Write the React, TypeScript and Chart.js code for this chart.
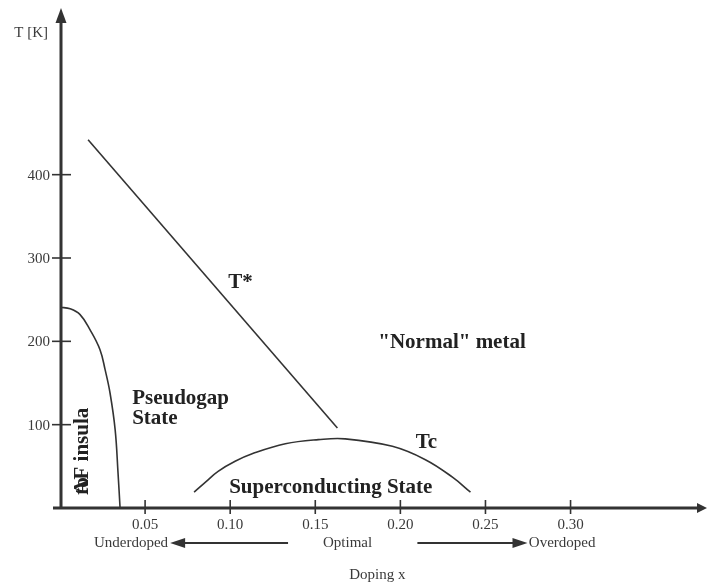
import React, { useEffect, useRef } from "react";
import { Chart, registerables } from "chart.js";

Chart.register(...registerables);

// ---- data ----
const xTickValues = [0.05, 0.1, 0.15, 0.2, 0.25, 0.3];
const xTickLabels = ["0.05", "0.10", "0.15", "0.20", "0.25", "0.30"];
const yTickValues = [100, 200, 300, 400];
const yTickLabels = ["100", "200", "300", "400"];

const tStarX = [0.0165, 0.163];
const tStarT = [442, 96];

const afX = [0, 0.006, 0.0118, 0.0176, 0.0235, 0.0265, 0.0294, 0.0324, 0.0341, 0.0353];
const afT = [241, 239, 232, 214, 190, 166, 138, 94, 42, 0];

const tcX = [0.0788, 0.086, 0.0929, 0.1029, 0.1129, 0.1324, 0.1518, 0.1676, 0.1953, 0.2147, 0.2306, 0.2412];
const tcT = [19, 32, 44, 56, 65, 77, 82, 83, 74, 58, 37, 19];

const X_MAX = 0.379;
const Y_MAX = 600;

const SERIF = '"Liberation Serif", "Times New Roman", serif';
const INK = "#333333";
const TEXT = "#3a3a3a";

const toPts = (xs: number[], ys: number[]) => xs.map((x, i) => ({ x, y: ys[i] }));

const diagramPlugin = {
  id: "diagram",
  beforeDatasetsDraw(chart: any) {
    const { ctx, chartArea, scales } = chart;
    const xs = scales.x;
    const ys = scales.y;
    const x0 = xs.getPixelForValue(0) + 1;
    const y0 = ys.getPixelForValue(0);
    ctx.save();
    ctx.strokeStyle = INK;
    ctx.fillStyle = INK;
    ctx.lineWidth = 3;
    // y axis
    ctx.beginPath();
    ctx.moveTo(x0, y0);
    ctx.lineTo(x0, chartArea.top + 12);
    ctx.stroke();
    ctx.beginPath();
    ctx.moveTo(x0, chartArea.top);
    ctx.lineTo(x0 - 5.5, chartArea.top + 15);
    ctx.lineTo(x0 + 5.5, chartArea.top + 15);
    ctx.closePath();
    ctx.fill();
    // x axis
    ctx.beginPath();
    ctx.moveTo(x0 - 8, y0);
    ctx.lineTo(chartArea.right - 6, y0);
    ctx.stroke();
    ctx.beginPath();
    ctx.moveTo(chartArea.right + 2, y0);
    ctx.lineTo(chartArea.right - 8, y0 - 5);
    ctx.lineTo(chartArea.right - 8, y0 + 5);
    ctx.closePath();
    ctx.fill();
    // ticks
    ctx.lineWidth = 1.6;
    yTickValues.forEach((v) => {
      const py = ys.getPixelForValue(v);
      ctx.beginPath();
      ctx.moveTo(x0 - 9, py);
      ctx.lineTo(x0 + 10, py);
      ctx.stroke();
    });
    xTickValues.forEach((v) => {
      const px = xs.getPixelForValue(v);
      ctx.beginPath();
      ctx.moveTo(px, y0 - 8);
      ctx.lineTo(px, y0 + 6);
      ctx.stroke();
    });
    ctx.restore();
  },
  afterDatasetsDraw(chart: any) {
    const { ctx, scales } = chart;
    const xs = scales.x;
    const ys = scales.y;
    const x0 = xs.getPixelForValue(0) + 1;
    const y0 = ys.getPixelForValue(0);
    const X = (v: number) => xs.getPixelForValue(v);
    const Y = (v: number) => ys.getPixelForValue(v);
    ctx.save();
    ctx.fillStyle = TEXT;
    // tick labels
    ctx.font = `15px ${SERIF}`;
    ctx.textBaseline = "middle";
    ctx.textAlign = "right";
    yTickValues.forEach((v, i) => ctx.fillText(yTickLabels[i], x0 - 11, Y(v) + 1));
    ctx.textAlign = "center";
    xTickValues.forEach((v, i) => ctx.fillText(xTickLabels[i], X(v), y0 + 17));
    // axis titles
    ctx.textAlign = "right";
    ctx.fillText("T [K]", x0 - 13, Y(570));
    ctx.textAlign = "center";
    ctx.fillText("Doping x", X(0.1865), y0 + 67);
    // doping regime row
    const rowY = y0 + 35;
    ctx.textAlign = "right";
    ctx.fillText("Underdoped", X(0.0635), rowY);
    ctx.textAlign = "center";
    ctx.fillText("Optimal", X(0.169), rowY);
    ctx.textAlign = "left";
    ctx.fillText("Overdoped", X(0.2755), rowY);
    ctx.strokeStyle = INK;
    ctx.fillStyle = INK;
    ctx.lineWidth = 2;
    // left arrow
    const la = X(0.0647);
    ctx.beginPath();
    ctx.moveTo(la + 12, rowY);
    ctx.lineTo(X(0.134), rowY);
    ctx.stroke();
    ctx.beginPath();
    ctx.moveTo(la, rowY);
    ctx.lineTo(la + 15, rowY - 5);
    ctx.lineTo(la + 15, rowY + 5);
    ctx.closePath();
    ctx.fill();
    // right arrow
    const ra = X(0.2747);
    ctx.beginPath();
    ctx.moveTo(X(0.21), rowY);
    ctx.lineTo(ra - 12, rowY);
    ctx.stroke();
    ctx.beginPath();
    ctx.moveTo(ra, rowY);
    ctx.lineTo(ra - 15, rowY - 5);
    ctx.lineTo(ra - 15, rowY + 5);
    ctx.closePath();
    ctx.fill();
    // region labels
    ctx.fillStyle = "#222222";
    ctx.font = `bold 21px ${SERIF}`;
    ctx.textAlign = "left";
    ctx.textBaseline = "middle";
    ctx.fillText("T*", X(0.0988), Y(270));
    ctx.fillText('"Normal" metal', X(0.187), Y(199));
    ctx.fillText("Pseudogap", X(0.0424), Y(131));
    ctx.fillText("State", X(0.0424), Y(107));
    ctx.fillText("Tc", X(0.209), Y(78));
    ctx.fillText("Superconducting State", X(0.0994), Y(25));
    // rotated AF label
    ctx.save();
    ctx.translate(X(0.013), Y(16));
    ctx.rotate(-Math.PI / 2);
    ctx.textAlign = "left";
    ctx.fillText("AF insula", 0, 0);
    ctx.fillText("to", 0, 0);
    ctx.restore();
    ctx.restore();
  },
};

export default function App() {
  const ref = useRef<HTMLCanvasElement | null>(null);
  useEffect(() => {
    if (!ref.current) return;
    const lineStyle = {
      showLine: true,
      borderColor: INK,
      borderWidth: 1.6,
      pointRadius: 0,
      pointHoverRadius: 0,
      fill: false,
      tension: 0.4,
    };
    const chart = new Chart(ref.current, {
      type: "scatter",
      data: {
        datasets: [
          { ...lineStyle, tension: 0, label: "T*", data: toPts(tStarX, tStarT) },
          { ...lineStyle, label: "AF", data: toPts(afX, afT) },
          { ...lineStyle, label: "Tc", data: toPts(tcX, tcT) },
        ],
      } as any,
      options: {
        responsive: false,
        animation: false,
        layout: { padding: { left: 60, right: 2, top: 8, bottom: 78 } },
        plugins: { legend: { display: false }, tooltip: { enabled: false } },
        events: [],
        scales: {
          x: { type: "linear", min: 0, max: X_MAX, display: false },
          y: { type: "linear", min: 0, max: Y_MAX, display: false },
        },
      } as any,
      plugins: [diagramPlugin],
    });
    return () => chart.destroy();
  }, []);
  return (
    <div style={{ position: "absolute", left: 0, top: 0, width: 707, height: 586, background: "#fff" }}>
      <canvas ref={ref} width={707} height={586} style={{ display: "block" }} />
    </div>
  );
}
